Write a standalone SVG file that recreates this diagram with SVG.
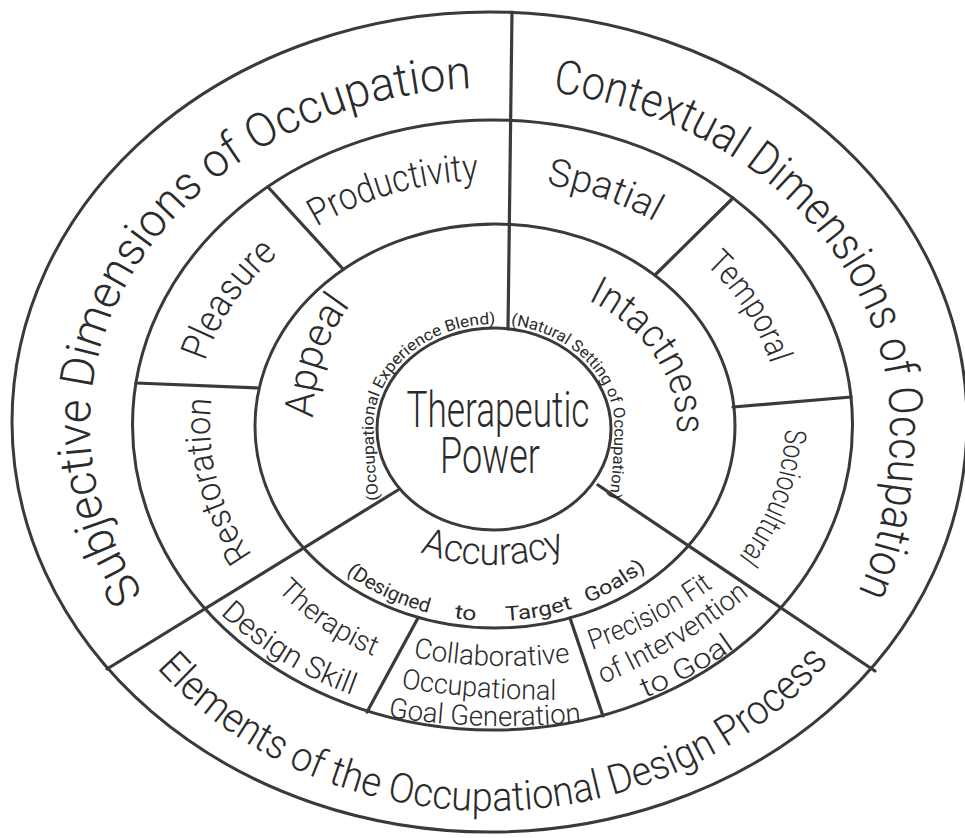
<svg xmlns="http://www.w3.org/2000/svg" width="965" height="838" viewBox="0 0 965 838">
<style>
  .ring{fill:none;stroke:#3a3a3a;stroke-width:3}
  .div{stroke:#3a3a3a;stroke-width:3.2;stroke-linecap:round;fill:none}
  text{font-family:Roboto,"Liberation Sans",sans-serif;font-weight:300;fill:#2b2b2b}
  .big{font-size:47px}
  .el{font-size:41px}
  .mid{font-size:38px}
  .inner{font-size:40px}
  .small{font-size:16px;font-weight:400}
  .dtg{font-size:20px;font-weight:400}
  .bot{font-size:28px}
  .core{font-size:50px}
</style>
<defs>
  <path id="pSubj" d="M143.6,593.5 A400,337 0 0 1 559.5,93.1"/>
  <path id="pCont" d="M552.6,92.2 A400,337 0 0 1 890,425 Q890,519 860,588 L845,622"/>
  <path id="pElem" d="M156.6,667.9 A429,386 0 0 0 878.8,588.1"/>
  <path id="pProd" d="M316.6,226.8 A295,245 0 0 1 566.4,188.4"/>
  <path id="pPlea" d="M205.1,361.6 A295,245 0 0 1 342.5,212.8"/>
  <path id="pRest" d="M252.5,554.8 A280,245 0 0 1 226.9,341.2"/>
  <path id="pSpat" d="M546.3,184.5 A295,245 0 0 1 716,267.5"/>
  <path id="pTemp" d="M705.5,264.4 A290,240 0 0 1 775.6,466.7"/>
  <path id="pSoci" d="M785,429.3 A295,245 0 0 1 698.6,598.2"/>
  <path id="pInta" d="M587.8,300.1 A184,148 0 0 1 652.3,501"/>
  <path id="pAccu" d="M420.3,552.1 A172,138 0 0 0 624.8,515.7"/>
  <path id="pDesg" d="M346,573.4 A224,194 0 0 0 703.5,493.4"/>
  <path id="pAppe" d="M313,418 Q314,352 352,303 L370,280"/>
  <path id="pOEB" d="M379,500 Q373,460 373.7,418 A121,105 0 0 1 494,324 L530,324"/>
  <path id="pNSO" d="M510.8,325 A121,105 0 0 1 614.3,418 Q615,460 609,500 L606,520"/>
  <path id="pTher" d="M277,590 Q318,633 373,656 L392,664"/>
  <path id="pDSk" d="M220,614 Q278,668 352,695 L372,701"/>
  <path id="pCol1" d="M413,657 Q490,672 572,662 L590,659"/>
  <path id="pCol2" d="M401,688 Q478,700 558,700 L575,700"/>
  <path id="pCol3" d="M388,717 Q484,732 582,722 L600,719"/>
  <path id="pPre1" d="M592,650 Q657,628 712,588 L725,578"/>
  <path id="pPre2" d="M603,684 Q682,650 748,596 L760,586"/>
  <path id="pPre3" d="M645,698 Q693,678 735,648 L745,640"/>
</defs>
<rect width="965" height="838" fill="#ffffff"/>
<g id="rings">
  <ellipse class="ring" cx="489.5" cy="422" rx="477.5" ry="410"/>
  <ellipse class="ring" cx="492.5" cy="425" rx="360" ry="305"/>
  <ellipse class="ring" cx="495" cy="426" rx="240" ry="202"/>
  <ellipse class="ring" cx="494" cy="429" rx="117" ry="101"/>
</g>
<g id="connectors">
  <line class="div" x1="512" y1="12" x2="508" y2="329"/>
  <line class="div" x1="107" y1="669" x2="398" y2="490"/>
  <line class="div" x1="598" y1="485" x2="875" y2="671"/>
  <line class="div" x1="268" y1="187" x2="343" y2="269"/>
  <line class="div" x1="136" y1="383" x2="259" y2="388"/>
  <line class="div" x1="733" y1="198" x2="655" y2="275"/>
  <line class="div" x1="733" y1="407" x2="851" y2="397"/>
  <line class="div" x1="418" y1="618" x2="367" y2="712"/>
  <line class="div" x1="570" y1="618" x2="603" y2="716"/>
</g>
<g id="node-subjective"><text class="big"><textPath href="#pSubj" textLength="741" lengthAdjust="spacingAndGlyphs">Subjective Dimensions of Occupation</textPath></text></g>
<g id="node-contextual"><text class="big"><textPath href="#pCont" textLength="688" lengthAdjust="spacingAndGlyphs">Contextual Dimensions of Occupation</textPath></text></g>
<g id="node-elements"><text class="el"><textPath href="#pElem" textLength="755" lengthAdjust="spacingAndGlyphs">Elements of the Occupational Design Process</textPath></text></g>
<g id="node-productivity"><text class="mid"><textPath href="#pProd" textLength="170" lengthAdjust="spacingAndGlyphs">Productivity</textPath></text></g>
<g id="node-pleasure"><text class="mid"><textPath href="#pPlea" textLength="131" lengthAdjust="spacingAndGlyphs">Pleasure</textPath></text></g>
<g id="node-restoration"><text style="font-size:35px"><textPath href="#pRest" textLength="165" lengthAdjust="spacingAndGlyphs">Restoration</textPath></text></g>
<g id="node-spatial"><text class="mid"><textPath href="#pSpat" textLength="115" lengthAdjust="spacingAndGlyphs">Spatial</textPath></text></g>
<g id="node-temporal"><text style="font-size:34px"><textPath href="#pTemp" textLength="120" lengthAdjust="spacingAndGlyphs">Temporal</textPath></text></g>
<g id="node-sociocultural"><text style="font-size:30px"><textPath href="#pSoci" textLength="138" lengthAdjust="spacingAndGlyphs">Sociocultural</textPath></text></g>
<g id="node-appeal">
  <text class="inner"><textPath href="#pAppe" textLength="121" lengthAdjust="spacingAndGlyphs">Appeal</textPath></text>
  <text class="small"><textPath href="#pOEB" textLength="250" lengthAdjust="spacingAndGlyphs">(Occupational Experience Blend)</textPath></text>
</g>
<g id="node-intactness">
  <text class="inner"><textPath href="#pInta" textLength="170" lengthAdjust="spacingAndGlyphs">Intactness</textPath></text>
  <text class="small"><textPath href="#pNSO" textLength="230" lengthAdjust="spacingAndGlyphs">(Natural Setting of Occupation)</textPath></text>
</g>
<g id="node-accuracy">
  <text style="font-size:38px"><textPath href="#pAccu" textLength="148" lengthAdjust="spacingAndGlyphs">Accuracy</textPath></text>
  <text class="dtg"><textPath href="#pDesg" textLength="92" lengthAdjust="spacingAndGlyphs">(Designed</textPath></text>
  <text class="dtg"><textPath href="#pDesg" startOffset="118" textLength="22" lengthAdjust="spacingAndGlyphs">to</textPath></text>
  <text class="dtg"><textPath href="#pDesg" startOffset="170" textLength="68" lengthAdjust="spacingAndGlyphs">Target</textPath></text>
  <text class="dtg"><textPath href="#pDesg" startOffset="254" textLength="68" lengthAdjust="spacingAndGlyphs">Goals)</textPath></text>
</g>
<g id="node-therapist-design-skill">
  <text class="bot"><textPath href="#pTher" textLength="118" lengthAdjust="spacingAndGlyphs">Therapist</textPath></text>
  <text style="font-size:30px"><textPath href="#pDSk" textLength="156" lengthAdjust="spacingAndGlyphs">Design Skill</textPath></text>
</g>
<g id="node-collaborative">
  <text class="bot"><textPath href="#pCol1" textLength="158" lengthAdjust="spacingAndGlyphs">Collaborative</textPath></text>
  <text class="bot"><textPath href="#pCol2" textLength="156" lengthAdjust="spacingAndGlyphs">Occupational</textPath></text>
  <text class="bot"><textPath href="#pCol3" textLength="194" lengthAdjust="spacingAndGlyphs">Goal Generation</textPath></text>
</g>
<g id="node-precision-fit">
  <text class="bot"><textPath href="#pPre1" textLength="137" lengthAdjust="spacingAndGlyphs">Precision Fit</textPath></text>
  <text class="bot"><textPath href="#pPre2" textLength="172" lengthAdjust="spacingAndGlyphs">of Intervention</textPath></text>
  <text class="bot"><textPath href="#pPre3" textLength="103" lengthAdjust="spacingAndGlyphs">to Goal</textPath></text>
</g>
<g id="node-therapeutic-power">
  <text class="core" x="498" y="427" text-anchor="middle" textLength="183" lengthAdjust="spacingAndGlyphs">Therapeutic</text>
  <text class="core" x="490" y="473" text-anchor="middle" textLength="100" lengthAdjust="spacingAndGlyphs">Power</text>
</g>
</svg>
